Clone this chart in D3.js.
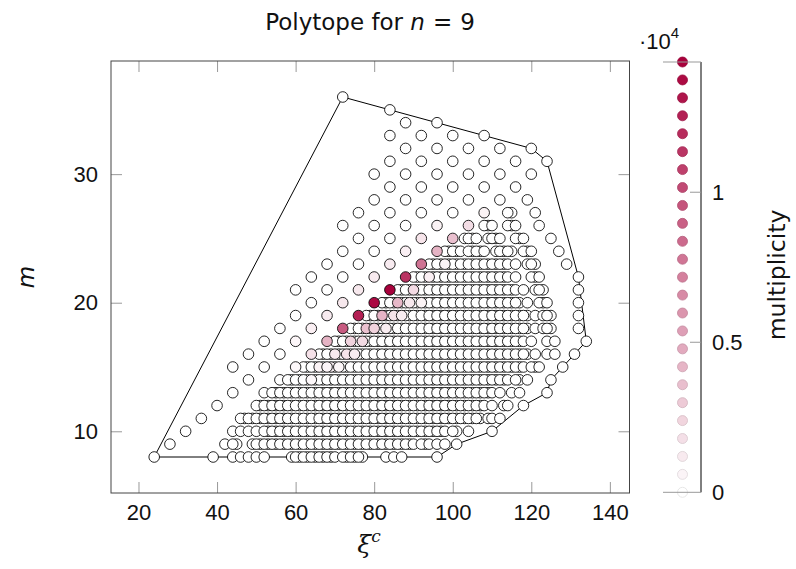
<!DOCTYPE html>
<head>
  <meta charset="utf-8" />
  <script src="https://cdn.jsdelivr.net/npm/d3@7"></script>
  <style>
    body {
      margin: 0;
      background-color: #ffffff;
    }
    text {
      font-family: "Liberation Sans", "DejaVu Sans", sans-serif;
      fill: #111;
    }
  </style>
</head>

<body>
  <script>
    // xi^c values per number of edges m (one row of the scatter each)
    var row8 = [24, 39, 44, 46, 48, 50, 52, 59, 60, 61, 62, 63, 64, 65, 66, 67, 68, 69, 70, 72, 73, 74, 75, 76, 77, 83, 85, 87, 96];
    var row9 = [28, 42, 44, 45, 49, 50, 51, 52, 53, 54, 55, 56, 57, 58, 59, 60, 61, 62, 63, 64, 65, 66, 67, 68, 69, 70, 71, 72, 73, 74, 75, 76, 77, 78, 79, 80, 81, 82, 83, 84, 85, 86, 87, 88, 89, 90, 92, 93, 94, 96, 98, 101];
    var row10 = [32, 44, 46, 48, 50, 52, 53, 54, 55, 56, 57, 58, 59, 60, 61, 62, 63, 64, 65, 66, 67, 68, 69, 70, 71, 72, 73, 74, 75, 76, 77, 78, 79, 80, 81, 82, 83, 84, 85, 86, 87, 88, 89, 90, 91, 92, 93, 94, 95, 96, 97, 98, 100, 101, 104, 110];
    var row11 = [36, 46, 47, 48, 49, 50, 51, 52, 53, 54, 55, 56, 57, 58, 59, 60, 61, 62, 63, 64, 65, 66, 67, 68, 69, 70, 71, 72, 73, 74, 75, 76, 77, 78, 79, 80, 81, 82, 83, 84, 85, 86, 87, 88, 89, 90, 91, 92, 93, 94, 95, 96, 97, 98, 99, 100, 101, 102, 103, 104, 105, 106, 107, 109, 110, 112];
    var row12 = [40, 50, 51, 52, 53, 54, 55, 56, 57, 58, 59, 60, 61, 62, 63, 64, 65, 66, 67, 68, 69, 70, 71, 72, 73, 74, 75, 76, 77, 78, 79, 80, 81, 82, 83, 84, 85, 86, 87, 88, 89, 90, 91, 92, 93, 94, 95, 96, 97, 98, 99, 100, 101, 102, 103, 104, 105, 106, 107, 108, 110, 113, 114, 118];
    var row13 = [44, 52, 54, 55, 56, 57, 58, 59, 60, 61, 62, 63, 64, 65, 66, 67, 68, 69, 70, 71, 72, 73, 74, 75, 76, 77, 78, 79, 80, 81, 82, 83, 84, 85, 86, 87, 88, 89, 90, 91, 92, 93, 94, 95, 96, 97, 98, 99, 100, 101, 102, 103, 104, 105, 106, 107, 108, 109, 110, 112, 115, 117, 124];
    var row14 = [48, 56, 58, 59, 60, 61, 62, 63, 64, 65, 66, 67, 68, 69, 70, 71, 72, 73, 74, 75, 76, 77, 78, 79, 80, 81, 82, 83, 84, 85, 86, 87, 88, 89, 90, 91, 92, 93, 94, 95, 96, 97, 98, 99, 100, 101, 102, 103, 104, 105, 106, 107, 108, 109, 110, 111, 112, 113, 114, 116, 117, 119, 125];
    var row15 = [44, 52, 60, 62, 63, 64, 65, 66, 67, 68, 69, 70, 71, 72, 73, 74, 75, 76, 77, 78, 79, 80, 81, 82, 83, 84, 85, 86, 87, 88, 89, 90, 91, 92, 93, 94, 95, 96, 97, 98, 99, 100, 101, 102, 103, 104, 105, 106, 107, 108, 109, 110, 111, 112, 113, 114, 115, 116, 117, 118, 120, 121, 122, 128];
    var row16 = [48, 56, 64, 66, 67, 68, 69, 70, 71, 72, 73, 74, 75, 76, 77, 78, 79, 80, 81, 82, 83, 84, 85, 86, 87, 88, 89, 90, 91, 92, 93, 94, 95, 96, 97, 98, 99, 100, 101, 102, 103, 104, 105, 106, 107, 108, 109, 110, 111, 112, 113, 114, 115, 116, 117, 118, 119, 121, 124, 126, 131];
    var row17 = [52, 60, 68, 70, 71, 72, 73, 74, 75, 76, 77, 78, 79, 80, 81, 82, 83, 84, 85, 86, 87, 88, 89, 90, 91, 92, 93, 94, 95, 96, 97, 98, 99, 100, 101, 102, 103, 104, 105, 106, 107, 108, 109, 110, 111, 112, 113, 114, 115, 116, 117, 118, 120, 124, 126, 134];
    var row18 = [56, 64, 72, 74, 75, 76, 77, 78, 79, 80, 81, 82, 83, 84, 85, 86, 87, 88, 89, 90, 91, 92, 93, 94, 95, 96, 97, 98, 99, 100, 101, 102, 103, 104, 105, 106, 107, 108, 109, 110, 111, 112, 113, 114, 115, 116, 117, 118, 119, 121, 123, 124, 125, 132];
    var row19 = [60, 68, 76, 78, 79, 80, 81, 82, 83, 84, 85, 86, 87, 88, 89, 90, 91, 92, 93, 94, 95, 96, 97, 98, 99, 100, 101, 102, 103, 104, 105, 106, 107, 108, 109, 110, 111, 112, 113, 114, 115, 116, 117, 118, 119, 121, 123, 124, 125, 132];
    var row20 = [64, 72, 80, 82, 83, 84, 85, 86, 87, 88, 89, 90, 91, 92, 93, 94, 95, 96, 97, 98, 99, 100, 101, 102, 103, 104, 105, 106, 107, 108, 109, 110, 111, 112, 113, 114, 115, 116, 117, 119, 122, 123, 124, 132];
    var row21 = [60, 68, 76, 84, 86, 87, 88, 89, 90, 91, 92, 93, 94, 95, 96, 97, 98, 99, 100, 101, 102, 103, 104, 105, 106, 107, 108, 109, 110, 111, 112, 113, 114, 115, 116, 118, 121, 122, 123, 132];
    var row22 = [64, 72, 80, 88, 90, 91, 92, 93, 94, 95, 96, 97, 98, 99, 100, 101, 102, 103, 104, 105, 106, 107, 108, 109, 110, 111, 112, 113, 114, 116, 120, 121, 122, 132];
    var row23 = [68, 76, 84, 92, 94, 95, 96, 97, 98, 99, 100, 101, 102, 103, 104, 105, 106, 107, 108, 109, 110, 111, 112, 113, 114, 116, 119, 120, 121, 129];
    var row24 = [72, 80, 88, 96, 98, 99, 100, 101, 102, 104, 105, 106, 107, 108, 111, 112, 113, 114, 115, 118, 119, 120, 127];
    var row25 = [76, 84, 92, 100, 103, 104, 105, 106, 109, 110, 111, 112, 116, 117, 118, 125];
    var row26 = [72, 80, 88, 96, 104, 108, 109, 110, 114, 115, 116, 122];
    var row27 = [76, 84, 92, 100, 108, 114, 115, 121];
    var row28 = [80, 88, 96, 104, 112, 119];
    var row29 = [84, 92, 100, 108, 116];
    var row30 = [80, 88, 96, 104, 112, 120];
    var row31 = [84, 92, 100, 108, 116, 124];
    var row32 = [88, 96, 104, 112, 120];
    var row33 = [84, 92, 100, 108];
    var row34 = [88, 96];
    var row35 = [84];
    var row36 = [72];

    var rowM = [8, 9, 10, 11, 12, 13, 14, 15, 16, 17, 18, 19, 20, 21, 22, 23, 24, 25, 26, 27, 28, 29, 30, 31, 32, 33, 34, 35, 36];
    var rows = [row8, row9, row10, row11, row12, row13, row14, row15, row16, row17, row18, row19, row20, row21, row22, row23, row24, row25, row26, row27, row28, row29, row30, row31, row32, row33, row34, row35, row36];

    // points that carry a visible multiplicity (all others are ~white)
    var hotXi = [60, 64, 68, 72, 76, 80, 84, 88, 92, 96, 100, 104, 108, 60, 64, 68, 72, 76, 80, 84, 88, 92, 96, 86, 82, 85, 78, 80, 74, 77, 70, 73, 75, 66, 69, 90, 94, 89, 98, 83, 87, 92, 64, 68, 71];
    var hotM = [15, 16, 17, 18, 19, 20, 21, 22, 23, 24, 25, 26, 27, 17, 18, 19, 20, 21, 22, 23, 24, 25, 26, 20, 19, 19, 18, 18, 17, 17, 16, 16, 16, 15, 15, 21, 22, 20, 23, 18, 19, 20, 14, 15, 15];
    var hotVal = [400, 1700, 4300, 9300, 12600, 13900, 14300, 11500, 7900, 4300, 3600, 1900, 700, 500, 900, 1100, 1300, 1300, 1200, 1100, 900, 1500, 700, 4000, 4200, 1500, 3500, 2500, 2500, 2000, 1200, 1500, 1000, 700, 900, 2000, 900, 1300, 600, 1000, 1000, 700, 400, 600, 500];

    // polytope outline
    var polyXi = [24, 72, 120, 124, 132, 134, 131, 128, 125, 124, 118, 110, 101, 96];
    var polyM = [8, 36, 32, 31, 22, 17, 16, 15, 14, 13, 12, 10, 9, 8];

    var xTicks = [20, 40, 60, 80, 100, 120, 140];
    var yTicks = [10, 20, 30];
    var cbTicks = [0, 5000, 10000];
    var cbLabels = ["0", "0.5", "1"];
    var multMax = 14340;
    var cbSteps = 25;

    var svg = d3
      .select("body")
      .append("svg")
      .attr("width", 796)
      .attr("height", 569);

    var x = d3.scaleLinear().domain([13, 145]).range([111, 629.5]);
    var y = d3.scaleLinear().domain([5.2, 38.8]).range([493, 61]);
    var col = d3
      .scaleLinear()
      .domain([0, multMax])
      .range(["#ffffff", "#a8003b"])
      .interpolate(d3.interpolateRgb);

    var hot = {};
    hotXi.forEach((h, i) => {
      hot[h + "," + hotM[i]] = hotVal[i];
    });

    var pts = [];
    rows.forEach((r, i) => {
      r.forEach(xi => {
        pts.push({ xi: xi, m: rowM[i], v: hot[xi + "," + rowM[i]] || 0 });
      });
    });
    // odd values first so the even ones sit on top, coloured points last
    pts.sort((a, b) => (a.v > 0) - (b.v > 0) || (b.xi % 2) - (a.xi % 2) || a.m - b.m || a.xi - b.xi);

    // ticks (inward, grey) on all four sides
    var tickCol = "#999";
    var fs = "22px";
    var gx = svg.append("g").attr("transform", "translate(0,493)");
    gx.call(d3.axisBottom(x).tickValues(xTicks).tickSizeInner(-11).tickSizeOuter(0).tickPadding(11));
    var gxt = svg.append("g").attr("transform", "translate(0,61)");
    gxt.call(d3.axisTop(x).tickValues(xTicks).tickSizeInner(-11).tickSizeOuter(0).tickFormat(""));
    var gy = svg.append("g").attr("transform", "translate(111,0)");
    gy.call(d3.axisLeft(y).tickValues(yTicks).tickSizeInner(-11).tickSizeOuter(0).tickPadding(13));
    var gyr = svg.append("g").attr("transform", "translate(629.5,0)");
    gyr.call(d3.axisRight(y).tickValues(yTicks).tickSizeInner(-11).tickSizeOuter(0).tickFormat(""));

    svg.selectAll(".domain").remove();
    svg.selectAll(".tick line").attr("stroke", tickCol);
    svg
      .selectAll(".tick text")
      .style("font-family", "Liberation Sans, sans-serif")
      .style("font-size", fs)
      .attr("fill", "#111");

    // frame
    svg
      .append("rect")
      .attr("x", 111)
      .attr("y", 61)
      .attr("width", 518.5)
      .attr("height", 432)
      .attr("fill", "none")
      .attr("stroke", "#444")
      .attr("stroke-width", 1);

    // polytope
    svg
      .append("path")
      .attr(
        "d",
        "M" + polyXi.map((p, i) => [x(p), y(polyM[i])].join(",")).join("L") + "Z"
      )
      .attr("fill", "none")
      .attr("stroke", "#000")
      .attr("stroke-width", 1);

    // scatter
    svg
      .append("g")
      .selectAll("circle")
      .data(pts)
      .enter()
      .append("circle")
      .attr("cx", d => x(d.xi))
      .attr("cy", d => y(d.m))
      .attr("r", 5.3)
      .attr("fill", d => col(d.v))
      .attr("stroke", "#000")
      .attr("stroke-width", 0.85);

    // title
    var title = svg
      .append("text")
      .attr("x", 370)
      .attr("y", 30)
      .attr("text-anchor", "middle")
      .style("font-family", "DejaVu Sans, sans-serif")
      .style("font-size", "23px");
    title.append("tspan").text("Polytope for ");
    title.append("tspan").style("font-style", "italic").text("n");
    title.append("tspan").attr("dx", 8).text("=");
    title.append("tspan").attr("dx", 8).text("9");

    // axis labels
    var xl = svg
      .append("text")
      .attr("x", 369)
      .attr("y", 553)
      .attr("text-anchor", "middle")
      .style("font-size", "25px");
    xl.append("tspan")
      .style("font-family", "DejaVu Serif, serif")
      .style("font-style", "italic")
      .text("ξ");
    xl.append("tspan")
      .attr("dy", -11)
      .style("font-family", "DejaVu Serif, serif")
      .style("font-size", "17px")
      .style("font-style", "italic")
      .text("c");

    svg
      .append("text")
      .attr("transform", "translate(34,277) rotate(-90)")
      .attr("text-anchor", "middle")
      .style("font-family", "DejaVu Sans, sans-serif")
      .style("font-size", "23px")
      .style("font-style", "italic")
      .text("m");

    // colour bar
    var cy = d3.scaleLinear().domain([0, multMax]).range([492.3, 62]);
    var cbVals = [];
    for (var i = 0; i < cbSteps; i++) cbVals.push((multMax * i) / (cbSteps - 1));

    svg
      .append("g")
      .selectAll("circle")
      .data(cbVals)
      .enter()
      .append("circle")
      .attr("cx", 682.5)
      .attr("cy", d => cy(d))
      .attr("r", 5)
      .attr("fill", d => col(d))
      .attr("stroke", d => d3.color(col(d)).darker(0.35))
      .attr("stroke-width", 0.8);

    svg
      .append("line")
      .attr("x1", 701)
      .attr("x2", 701)
      .attr("y1", cy(multMax))
      .attr("y2", cy(0))
      .attr("stroke", "#000");
    [0, multMax].forEach(v => {
      svg
        .append("line")
        .attr("x1", 663)
        .attr("x2", 701)
        .attr("y1", cy(v))
        .attr("y2", cy(v))
        .attr("stroke", tickCol);
    });
    cbTicks.forEach((t, i) => {
      if (t > 0)
        svg
          .append("line")
          .attr("x1", 690)
          .attr("x2", 701)
          .attr("y1", cy(t))
          .attr("y2", cy(t))
          .attr("stroke", tickCol);
      svg
        .append("text")
        .attr("x", 712)
        .attr("y", cy(t))
        .attr("dy", "0.36em")
        .style("font-size", fs)
        .text(cbLabels[i]);
    });

    var ex = svg
      .append("text")
      .attr("x", 639)
      .attr("y", 49)
      .style("font-size", fs);
    ex.append("tspan").text("·10");
    ex.append("tspan").attr("dy", -11).style("font-size", "15px").text("4");

    svg
      .append("text")
      .attr("transform", "translate(785,275) rotate(-90)")
      .attr("text-anchor", "middle")
      .style("font-family", "DejaVu Sans, sans-serif")
      .style("font-size", "23.5px")
      .text("multiplicity");
  </script>
</body>
